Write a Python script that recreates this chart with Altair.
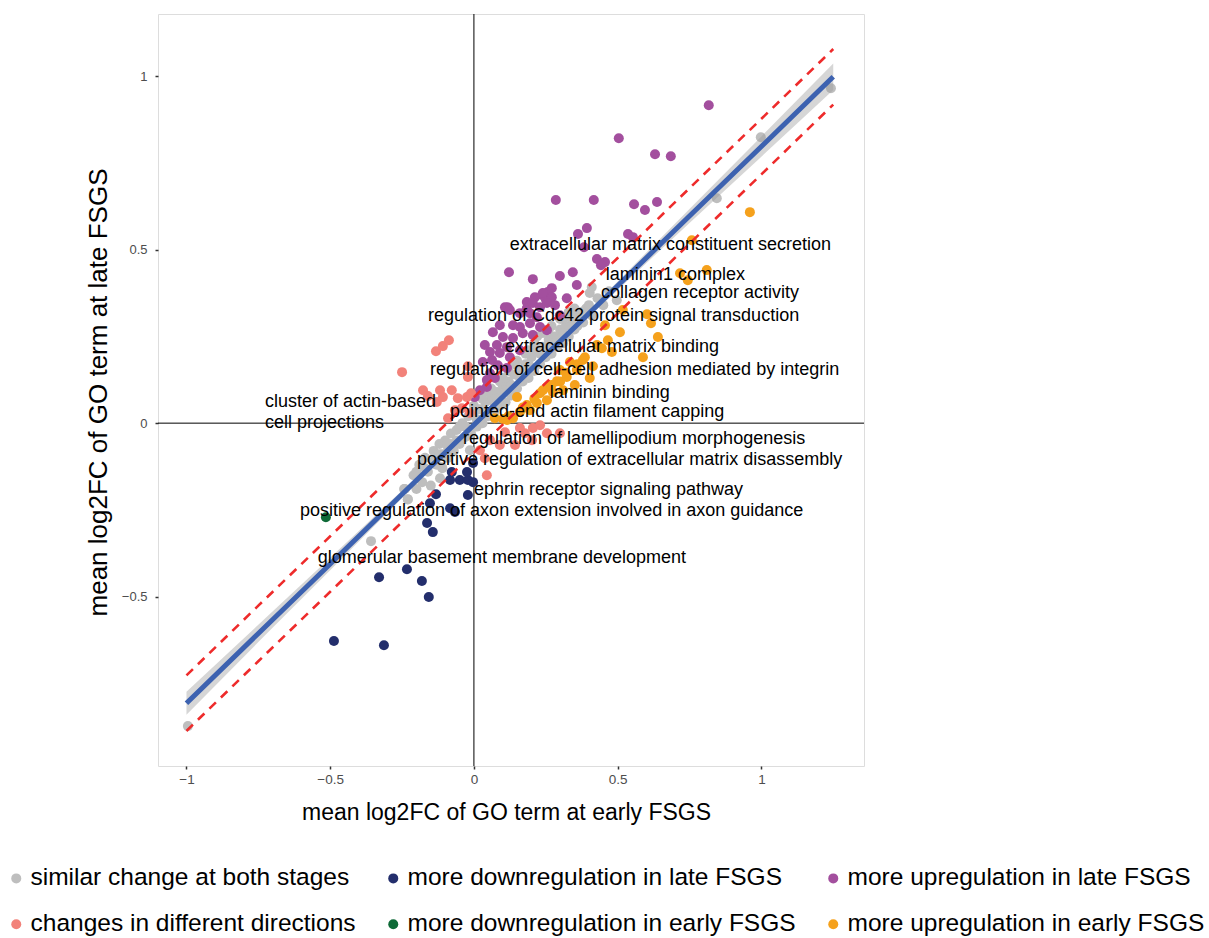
import altair as alt
import pandas as pd

FONT = "Liberation Sans"

# ---- categories and their colours -------------------------------------------
categories = [
    "similar change at both stages",
    "more downregulation in late FSGS",
    "more upregulation in late FSGS",
    "changes in different directions",
    "more downregulation in early FSGS",
    "more upregulation in early FSGS",
]
palette = ["#BEBEBE", "#232E6C", "#A34F9E", "#F2827A", "#0E6A37", "#F5A11C"]

# ---- GO terms: mean log2FC early (x) vs late (y) ----------------------------
similar_x = [-0.24, -0.23, -0.21, -0.20, -0.19, -0.18, -0.17, -0.16, -0.15, -0.14,
             -0.13, -0.12, -0.11, -0.10, -0.09, -0.08, -0.07, -0.06, -0.05, -0.04,
             -0.03, -0.02, -0.01, 0.00, 0.01, 0.02, 0.03, 0.04, 0.05, 0.06,
             0.07, 0.08, 0.09, 0.10, 0.11, 0.12, 0.13, 0.14, 0.15, 0.16,
             0.17, 0.18, 0.19, 0.20, 0.21, 0.22, 0.23, 0.24, 0.25, 0.26,
             0.27, 0.28, 0.29, 0.30, 0.31, 0.32, 0.33, 0.34, 0.35, 0.36,
             0.38, 0.39, 0.41, 0.43, 0.45, 0.47,
             -0.05, 0.00, 0.03, 0.06, 0.09, 0.12, 0.15, 0.18, 0.21, 0.24,
             0.27, 0.30, 0.33, -0.08, -0.11, 0.02, 0.07, 0.11, 0.16, 0.20,
             0.25, 0.29, 0.34,
             -0.20, -0.17, -0.14, -0.12, -0.09, -0.06, -0.03, 0.01, 0.04, 0.08,
             0.13, 0.17, 0.19, 0.23, 0.26, 0.28, 0.31, 0.36, 0.37, 0.40,
             0.05, 0.10, 0.14, 0.19, 0.22, 0.26, 0.31, 0.35,
             -0.995, 1.242, 0.998, 0.845, -0.358, -0.243, -0.230, 0.410, 0.403, 0.497,
             -0.094, -0.118, -0.111, -0.014]
similar_y = [-0.19, -0.22, -0.15, -0.19, -0.12, -0.17, -0.10, -0.14, -0.18, -0.08,
             -0.12, -0.06, -0.13, -0.05, -0.10, -0.03, -0.08, -0.02, -0.06, 0.00,
             -0.04, 0.02, -0.03, 0.03, -0.01, 0.04, 0.00, 0.06, 0.02, 0.07,
             0.03, 0.09, 0.05, 0.11, 0.06, 0.12, 0.08, 0.14, 0.10, 0.15,
             0.12, 0.17, 0.13, 0.19, 0.15, 0.21, 0.17, 0.22, 0.19, 0.24,
             0.20, 0.25, 0.22, 0.27, 0.23, 0.28, 0.25, 0.30, 0.27, 0.31,
             0.29, 0.33, 0.31, 0.36, 0.34, 0.38,
             -0.01, 0.05, 0.07, 0.10, 0.12, 0.15, 0.18, 0.20, 0.23, 0.26,
             0.28, 0.30, 0.32, -0.06, -0.09, 0.01, 0.06, 0.09, 0.13, 0.16,
             0.21, 0.24, 0.28,
             -0.14, -0.13, -0.11, -0.09, -0.07, -0.05, -0.01, 0.01, 0.03, 0.07,
             0.11, 0.15, 0.17, 0.20, 0.22, 0.23, 0.26, 0.28, 0.32, 0.34,
             0.09, 0.13, 0.17, 0.21, 0.25, 0.27, 0.30, 0.33,
             -0.873, 0.965, 0.824, 0.648, -0.340, -0.190, -0.219, 0.392, 0.375, 0.354,
             -0.058, -0.159, -0.127, -0.078]

down_late_x = [-0.132, -0.153, -0.163, -0.143, -0.233, -0.330, -0.181, -0.157, -0.487, -0.313,
               -0.083, -0.049, -0.021, -0.003, -0.021, -0.083, -0.066, -0.077, -0.024, -0.003]
down_late_y = [-0.205, -0.231, -0.288, -0.314, -0.421, -0.444, -0.455, -0.501, -0.628, -0.640,
               -0.164, -0.164, -0.164, -0.170, -0.207, -0.245, -0.256, -0.141, -0.141, -0.115]

up_late_x = [0.817, 0.504, 0.630, 0.685, 0.285, 0.417, 0.557, 0.595, 0.637, 0.393,
             0.362, 0.536, 0.553, 0.383, 0.428, 0.456, 0.442, 0.122, 0.205, 0.299,
             0.344, 0.358, 0.271, 0.257, 0.237, 0.250, 0.323, 0.184, 0.118,
             0.240, 0.271, 0.212, 0.108, 0.125, 0.160, 0.184, 0.205, 0.230, 0.254,
             0.195, 0.219, 0.160, 0.195, 0.230, 0.170, 0.205, 0.254, 0.066, 0.101,
             0.136, 0.080, 0.115, 0.090, 0.125, 0.160, 0.063, 0.083, 0.115, 0.056,
             0.073, 0.045, 0.045, 0.021, 0.003, 0.038, 0.056, 0.136, 0.299, 0.282,
             0.090, 0.031]
up_late_y = [0.916, 0.821, 0.775, 0.769, 0.643, 0.643, 0.631, 0.614, 0.637, 0.562,
             0.545, 0.545, 0.536, 0.507, 0.473, 0.464, 0.455, 0.435, 0.415, 0.424,
             0.435, 0.398, 0.389, 0.378, 0.369, 0.357, 0.360, 0.349, 0.334,
             0.375, 0.363, 0.363, 0.334, 0.326, 0.317, 0.331, 0.346, 0.334, 0.346,
             0.317, 0.305, 0.277, 0.288, 0.277, 0.259, 0.254, 0.268, 0.262, 0.248,
             0.245, 0.225, 0.219, 0.202, 0.190, 0.210, 0.182, 0.167, 0.159, 0.144,
             0.130, 0.124, 0.104, 0.095, 0.075, 0.225, 0.205, 0.282, 0.311, 0.340,
             0.282, 0.176]

opposite_x = [-0.250, -0.132, -0.108, -0.087, -0.177, -0.160, -0.118, -0.129, -0.108, -0.077,
              -0.056, -0.024, -0.010, -0.042, -0.014, -0.066, -0.090, -0.021, -0.021,
              0.021, 0.045, 0.177, 0.205, 0.230, 0.254, 0.202, 0.090, 0.143, 0.108,
              0.056, 0.299, 0.038, 0.160]
opposite_y = [0.147, 0.207, 0.222, 0.239, 0.095, 0.078, 0.095, 0.061, 0.075, 0.095,
              0.072, 0.075, 0.086, 0.043, 0.029, 0.037, 0.014, 0.164, 0.133,
              -0.078, -0.150, -0.029, -0.014, -0.006, -0.029, -0.049, -0.063, -0.063, -0.026,
              -0.049, -0.029, -0.101, -0.014]

down_early_x = [-0.515]
down_early_y = [-0.271]

up_early_x = [0.960, 0.758, 0.717, 0.810, 0.744, 0.518, 0.602, 0.616, 0.456, 0.508,
              0.640, 0.445, 0.588, 0.379, 0.414, 0.403, 0.358, 0.323, 0.289, 0.254,
              0.230, 0.275, 0.219, 0.254, 0.195, 0.160, 0.136, 0.115, 0.101, 0.184,
              0.299, 0.334, 0.428, 0.386, 0.351, 0.310, 0.073, 0.150, 0.466, 0.480,
              0.120, 0.170, 0.210, 0.240, 0.270, 0.320, 0.360, 0.300]
up_early_y = [0.608, 0.527, 0.432, 0.441, 0.412, 0.326, 0.314, 0.288, 0.282, 0.262,
              0.248, 0.216, 0.190, 0.182, 0.164, 0.130, 0.153, 0.133, 0.121, 0.104,
              0.086, 0.089, 0.058, 0.066, 0.037, 0.032, 0.014, 0.009, 0.012, 0.052,
              0.153, 0.176, 0.225, 0.190, 0.110, 0.095, 0.014, 0.075, 0.239, 0.205,
              0.020, 0.045, 0.070, 0.095, 0.110, 0.145, 0.170, 0.120]

# ---- linear fit with its confidence band and +/- threshold lines ----------
fit_x = [-1.0, -0.75, -0.5, -0.25, 0.0, 0.25, 0.5, 0.75, 1.0, 1.25]
fit_y = [-0.807, -0.606, -0.406, -0.205, -0.005, 0.196, 0.396, 0.597, 0.797, 0.998]
fit_se = [0.033, 0.025, 0.018, 0.011, 0.007, 0.007, 0.012, 0.020, 0.029, 0.038]
threshold = 0.08

# ---- labelled GO terms ------------------------------------------------------
label_text = [
    "extracellular matrix constituent secretion",
    "laminin1 complex",
    "collagen receptor activity",
    "regulation of Cdc42 protein signal transduction",
    "extracellular matrix binding",
    "regulation of cell-cell adhesion mediated by integrin",
    "cluster of actin-based\ncell projections",
    "laminin binding",
    "pointed-end actin filament capping",
    "regulation of lamellipodium morphogenesis",
    "positive regulation of extracellular matrix disassembly",
    "ephrin receptor signaling pathway",
    "positive regulation of axon extension involved in axon guidance",
    "glomerular basement membrane development",
]
label_x = [0.125, 0.459, 0.442, -0.160, 0.108, -0.153, -0.727, 0.264, -0.083, -0.038,
           -0.198, 0.000, -0.605, -0.543]
label_y = [0.513, 0.427, 0.375, 0.308, 0.219, 0.153, 0.062, 0.086, 0.032, -0.046,
           -0.107, -0.193, -0.254, -0.389]

# ---- tables -----------------------------------------------------------------
groups = [
    (categories[0], similar_x, similar_y),
    (categories[1], down_late_x, down_late_y),
    (categories[2], up_late_x, up_late_y),
    (categories[3], opposite_x, opposite_y),
    (categories[4], down_early_x, down_early_y),
    (categories[5], up_early_x, up_early_y),
]
points = pd.concat(
    [pd.DataFrame({"early": xs, "late": ys, "group": name}) for name, xs, ys in groups],
    ignore_index=True,
)

fit = pd.DataFrame({"x": fit_x, "y": fit_y, "se": fit_se})
fit["lo"] = fit["y"] - fit["se"]
fit["hi"] = fit["y"] + fit["se"]

dashed = pd.concat([
    pd.DataFrame({"x": fit_x, "y": [v + threshold for v in fit_y], "side": "upper"}),
    pd.DataFrame({"x": fit_x, "y": [v - threshold for v in fit_y], "side": "lower"}),
], ignore_index=True)

labels = pd.DataFrame({"x": label_x, "y": label_y, "text": label_text})
zero = pd.DataFrame({"v": [0.0]})

# ---- shared scales / axes ---------------------------------------------------
xscale = alt.Scale(domain=[-1.099, 1.357], nice=False, zero=False)
yscale = alt.Scale(domain=[-0.988, 1.179], nice=False, zero=False)

xaxis = alt.Axis(
    title="mean log2FC of GO term at early FSGS", values=[-1, -0.5, 0, 0.5, 1],
    format="~g", grid=False, domain=False, tickSize=3, tickWidth=1.5,
    tickColor="#333333", labelColor="#4D4D4D", labelFontSize=13.5, labelPadding=3,
    labelFont=FONT, titleFont=FONT, titleFontSize=23, titleFontWeight="normal",
    titleColor="#000000", titleX=348, titleY=46, titleBaseline="middle",
)
yaxis = alt.Axis(
    title="mean log2FC of GO term at late FSGS", values=[-0.5, 0, 0.5, 1],
    format="~g", grid=False, domain=False, tickSize=3, tickWidth=1.5,
    tickColor="#333333", labelColor="#4D4D4D", labelFontSize=13, labelPadding=8,
    labelFont=FONT, titleFont=FONT, titleFontSize=26, titleFontWeight="normal",
    titleColor="#000000", titleX=-60, titleY=378, titleAngle=-90,
    titleAlign="center", titleBaseline="middle",
)


def X(field):
    return alt.X(field, type="quantitative", scale=xscale, axis=xaxis)


def Y(field):
    return alt.Y(field, type="quantitative", scale=yscale, axis=yaxis)


vline = alt.Chart(zero).mark_rule(color="#000000", strokeWidth=1).encode(x=X("v"))
hline = alt.Chart(zero).mark_rule(color="#000000", strokeWidth=1).encode(y=Y("v"))

dots = alt.Chart(points).mark_circle(size=100, opacity=1).encode(
    x=X("early"),
    y=Y("late"),
    color=alt.Color(
        "group:N",
        scale=alt.Scale(domain=categories, range=palette),
        sort=categories,
        legend=alt.Legend(
            title=None, orient="none", legendX=-154, legendY=852, columns=3,
            direction="horizontal", symbolType="circle", symbolSize=100,
            symbolStrokeWidth=0, labelFont=FONT, labelFontSize=24.5,
            labelColor="#000000", labelLimit=700, labelOffset=2,
            columnPadding=25, rowPadding=21, padding=0,
        ),
    ),
)

band = alt.Chart(fit).mark_area(color="#999999", opacity=0.4).encode(
    x=X("x"), y=Y("lo"), y2="hi"
)
fit_line = alt.Chart(fit).mark_line(color="#3D62B0", strokeWidth=5).encode(
    x=X("x"), y=Y("y")
)
thresholds = alt.Chart(dashed).mark_line(
    color="#EE2B2B", strokeWidth=2.6, strokeDash=[9, 7]
).encode(x=X("x"), y=Y("y"), detail="side:N")

texts = alt.Chart(labels).mark_text(
    align="left", baseline="middle", font=FONT, fontSize=18, color="#000000",
    lineBreak="\n", lineHeight=21,
).encode(x=X("x"), y=Y("y"), text="text:N")

chart = (
    alt.layer(vline, hline, dots, band, fit_line, thresholds, texts)
    .properties(
        width=706, height=752,
        padding={"left": 158, "top": 14, "right": 345, "bottom": 172},
        autosize=alt.AutoSizeParams(type="none"),
    )
    .configure_view(stroke="#A6A6A6", strokeWidth=1)
    .configure(background="#FFFFFF")
)

chart.save("out.html", embed_options={"renderer": "svg", "actions": False})
